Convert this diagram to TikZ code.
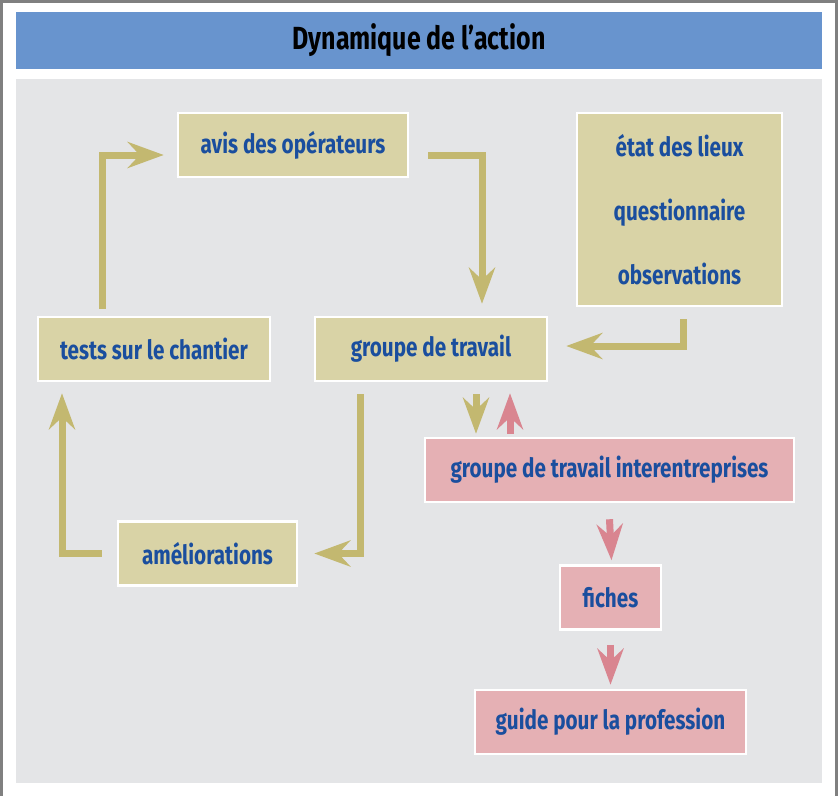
\documentclass[tikz,border=0pt]{standalone}
\usepackage{fontspec}
\setmainfont{Fira Sans}[FakeStretch=0.78]
\usetikzlibrary{arrows.meta,calc}

\definecolor{tanfill}{HTML}{D9D3A6}
\definecolor{tanarrow}{HTML}{C3B870}
\definecolor{pinkfill}{HTML}{E5B0B4}
\definecolor{pinkarrow}{HTML}{D98590}
\definecolor{panelgray}{HTML}{E4E5E7}
\definecolor{titleblue}{HTML}{6894CE}
\definecolor{txtblue}{HTML}{1A4E9E}

\tikzset{
  tanbox/.style={draw=white, line width=2.5, fill=tanfill, text=txtblue,
    font=\fontsize{26.5}{31}\selectfont\bfseries, minimum height=64, inner sep=0},
  pinkbox/.style={tanbox, fill=pinkfill},
  tanflow/.style={draw=tanarrow, line width=7,
    -{Stealth[length=36, width=26, inset=12]}},
  pinkflow/.style={tanflow, draw=pinkarrow}
}

\begin{document}
\begin{tikzpicture}[x=1pt, y=-1pt]
  \useasboundingbox (0,0) rectangle (839,796);

  % frame, title and panel
  \draw[gray, line width=2.5] (1.5,796) -- (1.5,1.5) -- (836.5,1.5) -- (836.5,796);
  \fill[titleblue] (16,12) rectangle (822,69);
  \node (title) at (419,40) {\fontsize{32}{36}\selectfont\bfseries Dynamique de l’action};
  \fill[panelgray] (16,79) rectangle (822,783);

  % boxes of the loop
  \node[tanbox, minimum width=230] (avis) at (293,145) {avis des opérateurs};
  \node[tanbox, minimum width=232] (tests) at (154,349) {tests sur le chantier};
  \node[tanbox, minimum width=232] (travail) at (431,349) {groupe de travail};
  \node[tanbox, minimum width=179] (amelio) at (207.5,553.5) {améliorations};
  \node[tanbox, minimum width=205, minimum height=193, align=center] (etat) at (679.5,209.5)
    {état des lieux\\[33pt]questionnaire\\[33pt]observations};

  % boxes of the pink chain
  \node[pinkbox, minimum width=369] (inter) at (609.5,470) {groupe de travail interentreprises};
  \node[pinkbox, minimum width=101] (fiches) at (610.5,597.5) {fiches};
  \node[pinkbox, minimum width=271] (guide) at (610.5,722) {guide pour la profession};

  % loop arrows
  \draw[tanflow] ([xshift=19,yshift=-10]avis.east) -| ([xshift=51,yshift=12]travail.north);
  \draw[tanflow] ([xshift=-52,yshift=7]tests.north) |- ([xshift=-13,yshift=-10]avis.west);
  \draw[tanflow] ([xshift=3.5,yshift=-12]etat.south) |- ([xshift=18,yshift=3]travail.east);
  \draw[tanflow] ([xshift=-71,yshift=-12]travail.south) |- ([xshift=16]amelio.east);
  \draw[tanflow] ([xshift=-15]amelio.west) -| ([xshift=-92,yshift=-11]tests.south);

  % exchange with the interentreprises group
  \draw[tanflow] ([xshift=45,yshift=-12]travail.south) -- ([xshift=-133.5,yshift=3]inter.north);
  \draw[pinkflow] ([xshift=-99.5,yshift=3]inter.north) -- ([xshift=79,yshift=-11]travail.south);
  \draw[pinkflow] ([yshift=-16]inter.south) -- ([xshift=1,yshift=4]fiches.north);
  \draw[pinkflow] ([yshift=-14]fiches.south) -- ([yshift=4]guide.north);
\end{tikzpicture}
\end{document}
